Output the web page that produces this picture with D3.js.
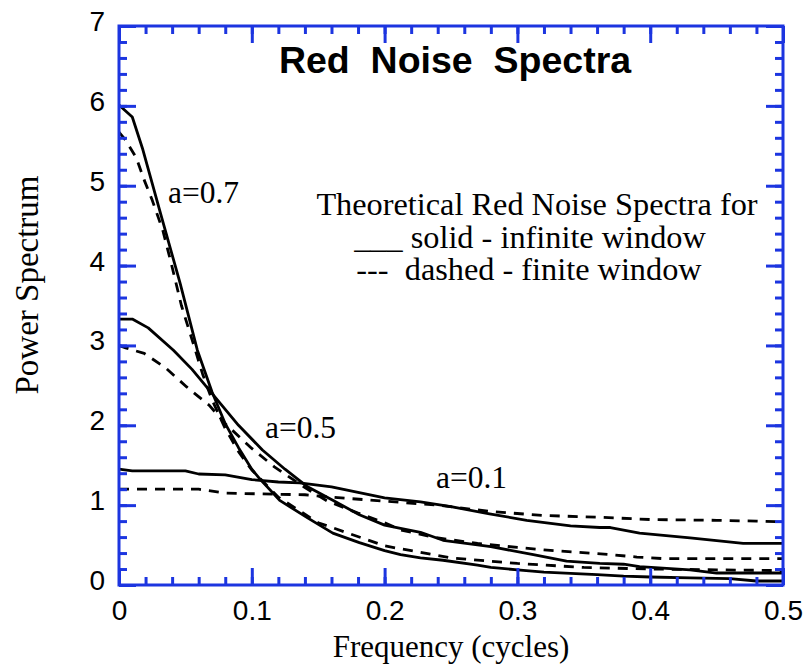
<!DOCTYPE html>
<html>
<head>
<meta charset="utf-8">
<script src="https://cdn.jsdelivr.net/npm/d3@7"></script>
<style>
  body { margin: 0; background: #fff; }
  svg text { white-space: pre; }
</style>
</head>
<body>
<div id="viz"></div>
<script>
// values
const xTickLabels = ["0", "0.1", "0.2", "0.3", "0.4", "0.5"]
const yTickLabels = ["0", "1", "2", "3", "4", "5", "6", "7"]

// a = 0.7
const f07s = [0, 0.01, 0.018, 0.032, 0.046, 0.059, 0.07, 0.08, 0.09, 0.1, 0.106, 0.121, 0.142, 0.161, 0.181, 0.2, 0.212, 0.227, 0.244, 0.27, 0.28, 0.3, 0.32, 0.36, 0.38, 0.4, 0.43, 0.46, 0.48, 0.5]
const p07s = [6.01, 5.86, 5.45, 4.61, 3.78, 2.94, 2.42, 2.02, 1.72, 1.45, 1.33, 1.06, 0.84, 0.65, 0.53, 0.43, 0.38, 0.34, 0.31, 0.25, 0.22, 0.19, 0.16, 0.13, 0.11, 0.10, 0.09, 0.08, 0.05, 0.05]
const f07d = [0, 0.005, 0.013, 0.019, 0.025, 0.033, 0.039, 0.047, 0.056, 0.063, 0.07, 0.08, 0.09, 0.1, 0.12, 0.15, 0.2, 0.25, 0.3, 0.35, 0.4, 0.45, 0.5]
const p07d = [5.67, 5.57, 5.35, 5.07, 4.82, 4.44, 4.05, 3.5, 3.02, 2.64, 2.32, 1.96, 1.67, 1.44, 1.1, 0.78, 0.49, 0.34, 0.27, 0.22, 0.2, 0.19, 0.18]

// a = 0.5
const f05s = [0, 0.01, 0.022, 0.041, 0.055, 0.07, 0.09, 0.108, 0.125, 0.142, 0.161, 0.181, 0.2, 0.212, 0.227, 0.244, 0.28, 0.312, 0.337, 0.362, 0.38, 0.392, 0.43, 0.45, 0.5]
const p05s = [3.33, 3.33, 3.22, 2.94, 2.7, 2.4, 2.0, 1.69, 1.45, 1.23, 1.06, 0.88, 0.75, 0.71, 0.66, 0.56, 0.48, 0.38, 0.3, 0.27, 0.26, 0.23, 0.19, 0.15, 0.15]
const f05d = [0, 0.005, 0.019, 0.035, 0.051, 0.068, 0.08, 0.1, 0.117, 0.14, 0.157, 0.18, 0.2, 0.212, 0.236, 0.27, 0.3, 0.32, 0.345, 0.37, 0.39, 0.41, 0.45, 0.5]
const p05d = [3.0, 2.97, 2.9, 2.72, 2.48, 2.25, 2.02, 1.71, 1.48, 1.22, 1.05, 0.9, 0.78, 0.69, 0.6, 0.52, 0.47, 0.44, 0.41, 0.38, 0.35, 0.33, 0.33, 0.33]

// a = 0.1
const f01s = [0, 0.01, 0.05, 0.06, 0.08, 0.1, 0.12, 0.136, 0.16, 0.18, 0.2, 0.227, 0.25, 0.279, 0.307, 0.34, 0.362, 0.37, 0.392, 0.43, 0.47, 0.5]
const p01s = [1.45, 1.43, 1.43, 1.39, 1.38, 1.32, 1.29, 1.28, 1.23, 1.16, 1.09, 1.04, 0.98, 0.89, 0.81, 0.74, 0.72, 0.72, 0.65, 0.59, 0.52, 0.52]
const f01d = [0, 0.06, 0.08, 0.14, 0.16, 0.2, 0.24, 0.28, 0.32, 0.36, 0.4, 0.45, 0.48, 0.5]
const p01d = [1.2, 1.2, 1.15, 1.13, 1.1, 1.05, 1.0, 0.92, 0.87, 0.85, 0.82, 0.81, 0.8, 0.79]

const series = [
    { f: f07s, p: p07s, dashed: false },
    { f: f07d, p: p07d, dashed: true },
    { f: f05s, p: p05s, dashed: false },
    { f: f05d, p: p05d, dashed: true },
    { f: f01s, p: p01s, dashed: false },
    { f: f01d, p: p01d, dashed: true },
]

const W = 804, H = 664
const margin = { top: 26, right: 21, bottom: 79, left: 119 }
const blue = "#1c35e0"
const serif = "'Liberation Serif', 'Times New Roman', serif"
const sans = "'Liberation Sans', Arial, sans-serif"

const svg = d3.select("#viz").append("svg").attr("width", W).attr("height", H)

const x = d3.scaleLinear().domain([0, 0.5]).range([margin.left, W - margin.right])
const y = d3.scaleLinear().domain([0, 7]).range([H - margin.bottom, margin.top])

// curves
const line = d3.line().x(d => x(d[0])).y(d => y(d[1]))
svg.append("g")
    .selectAll("path")
    .data(series)
    .join("path")
    .attr("d", s => line(s.f.map((f, i) => [f, s.p[i]])))
    .attr("fill", "none")
    .attr("stroke", "#000")
    .attr("stroke-width", 2.8)
    .attr("stroke-linejoin", "round")
    .attr("stroke-dasharray", s => s.dashed ? "10,8" : null)

// inward ticks on all four sides
const xMinor = d3.range(0, 0.5001, 0.02), xMajor = d3.range(0, 0.5001, 0.1)
const yMinor = d3.range(0, 7.001, 0.2), yMajor = d3.range(0, 8, 1)

function ticks(axis, vals, len, tr) {
    const g = svg.append("g").attr("transform", tr)
        .call(axis.tickValues(vals).tickSize(-len).tickFormat(""))
    g.select(".domain").remove()
    g.selectAll("line").attr("stroke", blue).attr("stroke-width", 3)
}
const yb = y(0), yt = y(7), xl = x(0), xr = x(0.5)
ticks(d3.axisBottom(x), xMinor, 8, `translate(0,${yb})`)
ticks(d3.axisBottom(x), xMajor, 17, `translate(0,${yb})`)
ticks(d3.axisTop(x), xMinor, 8, `translate(0,${yt})`)
ticks(d3.axisTop(x), xMajor, 17, `translate(0,${yt})`)
ticks(d3.axisLeft(y), yMinor, 8, `translate(${xl},0)`)
ticks(d3.axisLeft(y), yMajor, 17, `translate(${xl},0)`)
ticks(d3.axisRight(y), yMinor, 8, `translate(${xr},0)`)
ticks(d3.axisRight(y), yMajor, 17, `translate(${xr},0)`)

svg.append("rect")
    .attr("x", xl).attr("y", yt)
    .attr("width", xr - xl).attr("height", yb - yt)
    .attr("fill", "none").attr("stroke", blue).attr("stroke-width", 3)

// tick labels
const xl_g = svg.append("g").attr("transform", `translate(0,${yb})`)
    .call(d3.axisBottom(x).tickValues(xMajor).tickSize(0).tickPadding(15)
        .tickFormat((d, i) => xTickLabels[i]))
xl_g.select(".domain").remove()
xl_g.selectAll("text").attr("font-family", sans).attr("font-size", 28).attr("fill", "#000")

const yl_g = svg.append("g").attr("transform", `translate(${xl},0)`)
    .call(d3.axisLeft(y).tickValues(yMajor).tickSize(0).tickPadding(14)
        .tickFormat((d, i) => yTickLabels[i]))
yl_g.select(".domain").remove()
yl_g.selectAll("text").attr("font-family", sans).attr("font-size", 28).attr("fill", "#000").attr("dy", "0.16em")

// titles
svg.append("text")
    .attr("x", 455).attr("y", 73)
    .attr("text-anchor", "middle")
    .attr("font-family", sans).attr("font-weight", "bold").attr("font-size", 37.5)
    .text("Red  Noise  Spectra")

svg.append("text")
    .attr("x", (xl + xr) / 2).attr("y", 657)
    .attr("text-anchor", "middle")
    .attr("font-family", serif).attr("font-size", 31)
    .text("Frequency (cycles)")

svg.append("text")
    .attr("transform", `translate(38,285) rotate(-90)`)
    .attr("text-anchor", "middle")
    .attr("font-family", serif).attr("font-size", 33)
    .text("Power Spectrum")

// curve labels
const curveLabels = [
    { t: "a=0.7", x: 168, y: 203 },
    { t: "a=0.5", x: 265, y: 438 },
    { t: "a=0.1", x: 436, y: 488 },
]
svg.append("g").selectAll("text").data(curveLabels).join("text")
    .attr("x", d => d.x).attr("y", d => d.y)
    .attr("font-family", serif).attr("font-size", 31.5)
    .text(d => d.t)

// legend note, one text block of three lines
const noteLines = ["Theoretical Red Noise Spectra for", "___ solid - infinite window", "---  dashed - finite window"]
const noteX = [537, 530, 529]
svg.append("text")
    .attr("y", 215)
    .attr("text-anchor", "middle")
    .attr("font-family", serif).attr("font-size", 32.3)
    .selectAll("tspan")
    .data(noteLines)
    .join("tspan")
    .attr("x", (d, i) => noteX[i])
    .attr("dy", (d, i) => i === 0 ? 0 : 32.5)
    .text(d => d)
</script>
</body>
</html>
